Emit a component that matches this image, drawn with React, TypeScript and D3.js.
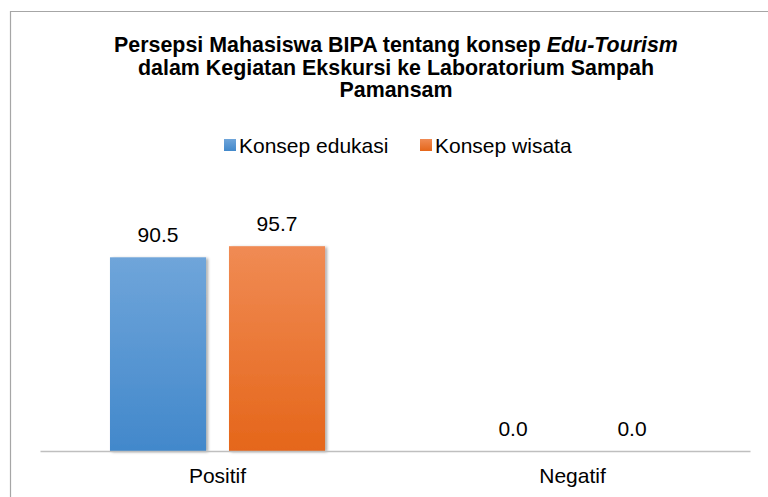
import { useEffect, useRef } from 'react';
import * as d3 from 'd3';

const W = 768;
const H = 497;

const categories = ['Positif', 'Negatif'];
const seriesNames = ['Konsep edukasi', 'Konsep wisata'];
const edukasi = [90.5, 0.0];
const wisata = [95.7, 0.0];
const seriesValues = [edukasi, wisata];

const titleLines = [
  ['Persepsi Mahasiswa BIPA tentang konsep ', 'Edu-Tourism'],
  ['dalam Kegiatan Ekskursi ke Laboratorium Sampah', ''],
  ['Pamansam', ''],
];

const GRADS = [
  { id: 'gBlue', top: '#6fa5da', bottom: '#4288cb' },
  { id: 'gOrange', top: '#f08b54', bottom: '#e5661a' },
];

const FONT = "'Liberation Sans', Arial, sans-serif";

export default function App() {
  const svgRef = useRef<SVGSVGElement | null>(null);

  useEffect(() => {
    const svg = d3.select(svgRef.current);
    svg.selectAll('*').remove();
    svg.attr('width', W).attr('height', H);

    const MARGIN = { left: 40, right: 18, baseline: 451 };

    const defs = svg.append('defs');
    GRADS.forEach((g) => {
      const lg = defs.append('linearGradient').attr('id', g.id)
        .attr('x1', 0).attr('y1', 0).attr('x2', 0).attr('y2', 1);
      lg.append('stop').attr('offset', '0%').attr('stop-color', g.top);
      lg.append('stop').attr('offset', '100%').attr('stop-color', g.bottom);
    });
    const f = defs.append('filter').attr('id', 'shadow')
      .attr('x', '-10%').attr('y', '-10%').attr('width', '130%').attr('height', '130%');
    f.append('feDropShadow').attr('dx', 2).attr('dy', 1).attr('stdDeviation', 1.5)
      .attr('flood-color', '#000').attr('flood-opacity', 0.35);

    svg.append('rect').attr('width', W).attr('height', H).attr('fill', '#fff');

    // chart frame (runs off the right/bottom edges)
    svg.append('path')
      .attr('d', `M10.5,${H + 2} L10.5,11.5 L${W + 2},11.5`)
      .attr('fill', 'none').attr('stroke', '#a6a6a6').attr('stroke-width', 1.2);

    // title
    const title = svg.append('text')
      .attr('text-anchor', 'middle').attr('font-family', FONT)
      .attr('font-weight', 700).attr('font-size', 21.4).attr('fill', '#000');
    titleLines.forEach(([plain, ital], i) => {
      title.append('tspan').attr('x', 396).attr('y', 52 + i * 22.5).text(plain);
      if (ital) title.append('tspan').attr('font-style', 'italic').text(ital);
    });

    // legend
    const legend = svg.append('g').attr('font-family', FONT).attr('font-size', 21);
    const legendX = [224, 420];
    seriesNames.forEach((name, i) => {
      const g = legend.append('g').attr('transform', `translate(${legendX[i]},139)`);
      g.append('rect').attr('width', 12).attr('height', 12).attr('fill', `url(#${GRADS[i].id})`);
      g.append('text').attr('x', 15).attr('y', 14).attr('fill', '#000').text(name);
    });

    const x0 = d3.scaleBand<string>().domain(categories)
      .range([MARGIN.left, W - MARGIN.right]).padding(0);
    const x1 = d3.scaleBand<string>().domain(seriesNames)
      .range([0, x0.bandwidth()]).paddingInner(0.193).paddingOuter(0.588);
    const y = d3.scaleLinear().domain([0, 100]).range([MARGIN.baseline, 237]);

    const plot = svg.append('g');
    categories.forEach((cat, ci) => {
      seriesNames.forEach((s, si) => {
        const v = seriesValues[si][ci];
        const bx = (x0(cat) ?? 0) + (x1(s) ?? 0);
        const by = y(v);
        const bh = y(0) - by;
        if (bh > 0) {
          plot.append('rect')
            .attr('x', bx).attr('y', by)
            .attr('width', x1.bandwidth()).attr('height', bh)
            .attr('fill', `url(#${GRADS[si].id})`)
            .attr('filter', 'url(#shadow)');
        }
        plot.append('text')
          .attr('x', bx + x1.bandwidth() / 2).attr('y', by - 15)
          .attr('text-anchor', 'middle').attr('font-family', FONT).attr('font-size', 21)
          .attr('fill', '#000').text(d3.format('.1f')(v));
      });
    });

    // category axis
    const axis = svg.append('g').attr('transform', `translate(0,${MARGIN.baseline})`)
      .call(d3.axisBottom(x0).tickSize(0).tickPadding(17));
    axis.select('.domain').attr('stroke', '#bfbfbf').attr('stroke-width', 1.5);
    axis.selectAll('.tick text').attr('font-family', FONT).attr('font-size', 21).attr('fill', '#000');
  }, []);

  return (
    <div style={{ position: 'absolute', left: 0, top: 0, width: W, height: H, overflow: 'hidden' }}>
      <svg ref={svgRef} style={{ display: 'block' }} />
    </div>
  );
}
